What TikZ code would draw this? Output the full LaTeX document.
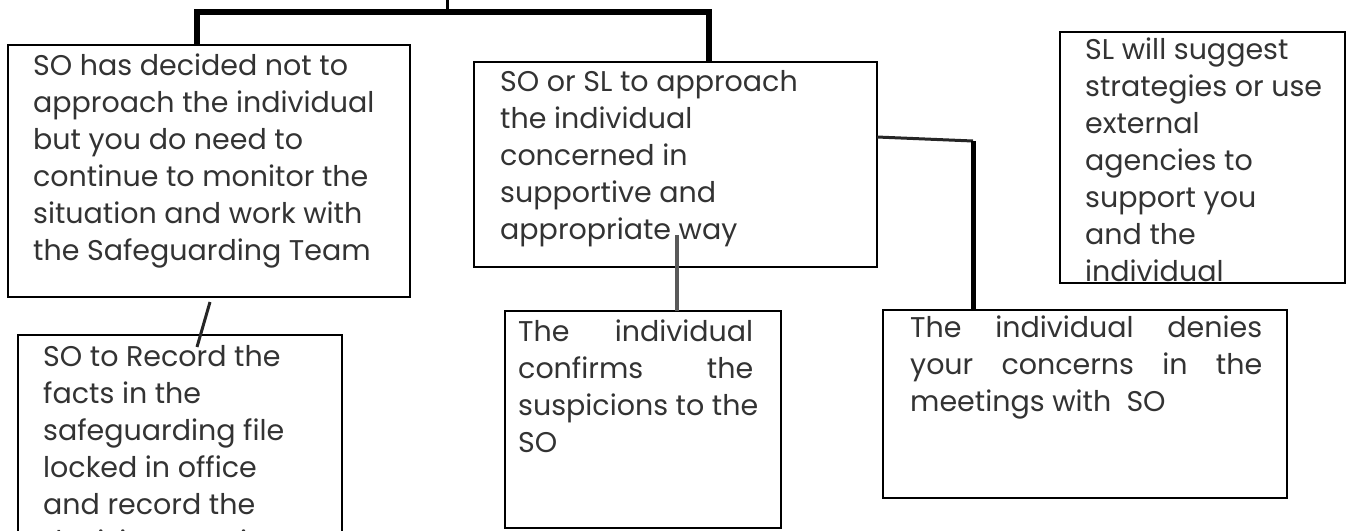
\documentclass[tikz,border=0pt]{standalone}
\usepackage{fontspec}
\setmainfont{Poppins}
\newcommand{\tbx}[2]{\parbox[t]{#1}{\raggedright #2}}
\begin{document}
\begin{tikzpicture}[x=1pt,y=-1pt,
  box/.style={draw=black,line width=2.5pt,anchor=north west,inner sep=0pt,outer sep=0pt},
  txt/.style={anchor=base west,inner sep=0pt,text=black!80,font=\fontsize{28.5}{37}\selectfont},
  tree/.style={line width=6pt,black},
  link/.style={line width=3pt,black!85}]
\useasboundingbox[fill=white] (0,0) rectangle (1348,530);
\clip (0,0) rectangle (1348,530);
% boxes
\node[box,minimum width=402pt,minimum height=252pt] (A) at (8,45) {};
\node[box,minimum width=403pt,minimum height=205pt] (B) at (474,62) {};
\node[box,minimum width=324pt,minimum height=250pt] (C) at (18,335) {};
\node[box,minimum width=276pt,minimum height=217pt] (D) at (505,311) {};
\node[box,minimum width=404pt,minimum height=188pt] (E) at (883,310) {};
\node[box,minimum width=285pt,minimum height=251pt] (F) at (1060,32) {};
% texts
\node[txt] (tA) at (33,75) {\tbx{380pt}{SO has decided not to\\approach the individual\\but you do need to\\continue to monitor the\\situation and work with\\the Safeguarding Team}};
\node[txt] (tB) at (500,91) {\tbx{370pt}{SO or SL to approach\\the individual\\concerned in\\supportive and\\appropriate way}};
\node[txt] (tC) at (43,366) {\tbx{295pt}{SO to Record the\\facts in the\\safeguarding file\\locked in office\\and record the\\decision, continue}};
\node[txt] (tD) at (518,341) {\tbx{240pt}{\makebox[235pt][s]{The individual}\\\makebox[235pt][s]{confirms the}\\suspicions to the\\SO}};
\node[txt] (tE) at (910,337) {\tbx{360pt}{\makebox[352pt][s]{The individual denies}\\\makebox[352pt][s]{your concerns in the}\\meetings with\ \ SO}};
\node[txt] (tF) at (1085,59) {\tbx{255pt}{SL will suggest\\strategies or use\\external\\agencies to\\support you\\and the\\individual}};
% connectors
\coordinate (t0) at (447,0);
\coordinate (tL) at (197,12);
\coordinate (tR) at (709,12);
\draw[line width=3pt] (t0) -- (t0 |- tL);
\draw[tree] (A.north -| tL) -- (tL) -- (tR) -- (B.north -| tR);
\coordinate (bE) at (973,141);
\draw[link] ([yshift=-75pt]B.north east) -- (bE);
\draw[tree,line width=5pt] (bE) -- (bE |- E.north);
\coordinate (bD) at (677,235);
\draw[line width=4pt,black!65] (bD) -- (bD |- D.north);
\draw[link] ([xshift=202pt,yshift=-5pt]A.south west) -- ([xshift=179pt,yshift=-12pt]C.north west);
\end{tikzpicture}
\end{document}
